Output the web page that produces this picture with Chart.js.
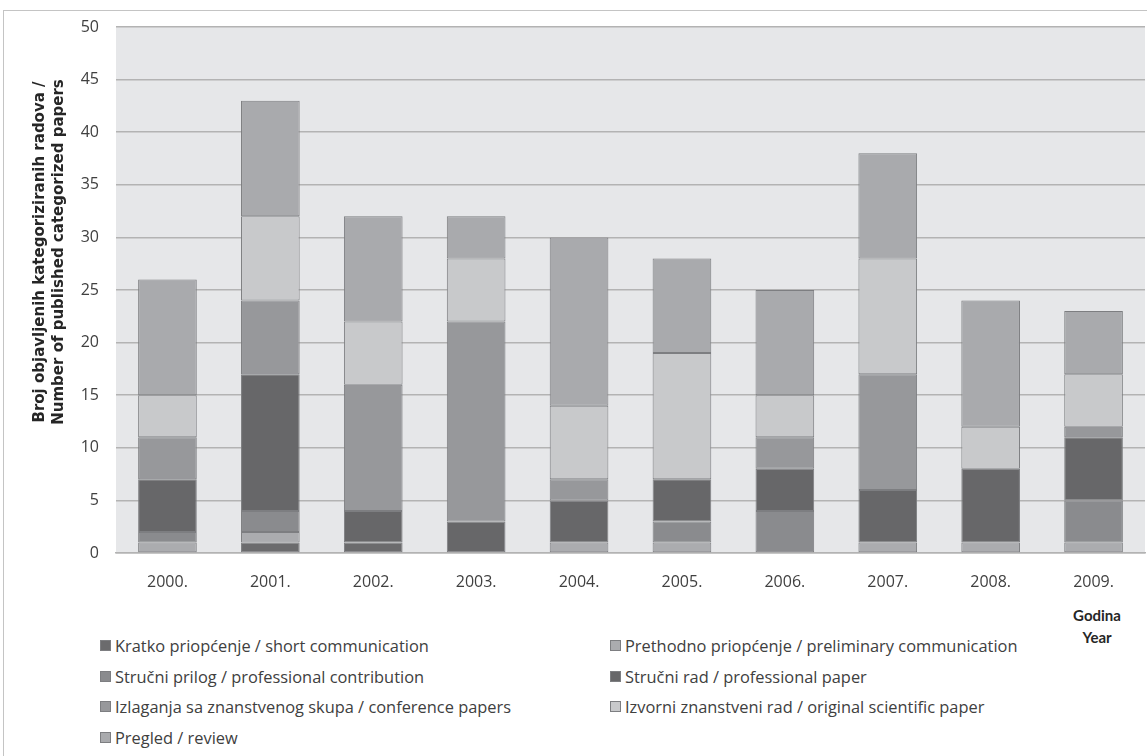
<!DOCTYPE html>
<html>
<head>
<meta charset="utf-8">
<script src="https://cdn.jsdelivr.net/npm/chart.js@4"></script>
<style>
  body { margin: 0; background: #fff; font-family: "Open Sans", sans-serif; }
  #wrap { position: relative; width: 1147px; height: 756px; overflow: hidden; }
  #frame { position: absolute; left: 3px; top: 10px; width: 1200px; height: 800px; border: 1px solid #c4c4c4; }
  #chart { position: absolute; left: 0; top: 0; }
  #legend { position: absolute; left: 0; top: 0; }
  .item { position: absolute; font-family: "Open Sans"; font-size: 16.4px; color: #404040; white-space: nowrap; line-height: 18px; }
  .sw { display: inline-block; width: 9px; height: 9px; border: 1px solid #7d7e81; margin-right: 4px; vertical-align: 1px; }
  #xtitle { position: absolute; left: 1060px; top: 604px; width: 74px; text-align: center;
    font-family: Lato; font-weight: bold; font-size: 15px; color: #262626; line-height: 22px; }
</style>
</head>
<body>
<div id="wrap">
  <div id="frame"></div>
  <canvas id="chart" width="1147" height="600"></canvas>
  <div id="xtitle">Godina<br>Year</div>
  <div id="legend"></div>
</div>
<script>
// Years on the x axis
const years = ["2000.", "2001.", "2002.", "2003.", "2004.", "2005.", "2006.", "2007.", "2008.", "2009."];

// Paper counts per category, stacked bottom to top
const kratko     = [0, 1, 1, 0, 0, 0, 0, 0, 0, 0];
const prethodno  = [1, 1, 0, 0, 1, 1, 0, 1, 1, 1];
const strPrilog  = [1, 2, 0, 0, 0, 2, 4, 0, 0, 4];
const strRad     = [5, 13, 3, 3, 4, 4, 4, 5, 7, 6];
const izlaganja  = [4, 7, 12, 19, 2, 0, 3, 11, 0, 1];
const izvorni    = [4, 8, 6, 6, 7, 12, 4, 11, 4, 5];
const pregled    = [11, 11, 10, 4, 16, 9, 10, 10, 12, 6];

const yTicks = [0, 5, 10, 15, 20, 25, 30, 35, 40, 45, 50];
const yTitle = ["Broj objavljenih kategoriziranih radova /", "Number of published categorized papers"];

const series = [
  { label: "Kratko priopćenje / short communication", data: kratko, color: "#6b6b6d" },
  { label: "Prethodno priopćenje / preliminary communication", data: prethodno, color: "#abacaf" },
  { label: "Stručni prilog / professional contribution", data: strPrilog, color: "#8a8b8e" },
  { label: "Stručni rad / professional paper", data: strRad, color: "#676769" },
  { label: "Izlaganja sa znanstvenog skupa / conference papers", data: izlaganja, color: "#97989b" },
  { label: "Izvorni znanstveni rad / original scientific paper", data: izvorni, color: "#c8c9cb" },
  { label: "Pregled / review", data: pregled, color: "#a9aaad" }
];

// grey plot background + y title placed like the original (above centre)
const plotBg = {
  id: "plotBg",
  beforeDraw(chart) {
    const a = chart.chartArea;
    const ctx = chart.ctx;
    ctx.save();
    ctx.fillStyle = "#e6e7e9";
    ctx.fillRect(a.left, a.top, a.right - a.left, a.bottom - a.top);
    ctx.restore();
  },
  afterDraw(chart) {
    const ctx = chart.ctx;
    ctx.save();
    ctx.translate(40, 252);
    ctx.rotate(-Math.PI / 2);
    ctx.fillStyle = "#262626";
    ctx.font = "bold 15px 'DejaVu Sans'";
    ctx.textAlign = "center";
    ctx.textBaseline = "middle";
    ctx.fillText(yTitle[0], 0, 0);
    ctx.fillText(yTitle[1], 0, 19);
    ctx.restore();
  }
};

new Chart(document.getElementById("chart"), {
  type: "bar",
  data: {
    labels: years,
    datasets: series.map(s => ({
      label: s.label,
      data: s.data,
      backgroundColor: s.color,
      borderColor: "#7d7e81",
      borderWidth: c => (c.raw === 0 ? 0 : 1),
      borderSkipped: false,
      barPercentage: 0.57,
      categoryPercentage: 1
    }))
  },
  options: {
    responsive: false,
    animation: false,
    layout: { padding: { left: 22, top: 27, right: 2, bottom: 0 } },
    plugins: { legend: { display: false }, tooltip: { enabled: false } },
    scales: {
      x: {
        stacked: true,
        grid: { display: false },
        border: { color: "#b3b3b3", width: 1.5 },
        ticks: { color: "#404040", font: { family: "Open Sans", size: 16 }, padding: 12 },
        afterFit(s) { s.height = 47; }
      },
      y: {
        stacked: true,
        min: 0,
        max: 50,
        afterBuildTicks(s) { s.ticks = yTicks.map(v => ({ value: v })); },
        grid: { color: "#b3b3b3", lineWidth: 1.5, drawTicks: false },
        border: { display: false },
        ticks: { color: "#404040", font: { family: "Open Sans", size: 16 }, padding: 17 },
        afterFit(s) { s.width = 94; }
      }
    }
  },
  plugins: [plotBg]
});

// two-column legend, row-major like the original
const legend = document.getElementById("legend");
series.forEach((s, i) => {
  const col = i % 2, row = Math.floor(i / 2);
  const d = document.createElement("div");
  d.className = "item";
  d.style.left = (col ? 610 : 100) + "px";
  d.style.top = (637 + row * 30.7) + "px";
  d.innerHTML = '<span class="sw" style="background:' + s.color + '"></span>' + s.label;
  legend.appendChild(d);
});
</script>
</body>
</html>
